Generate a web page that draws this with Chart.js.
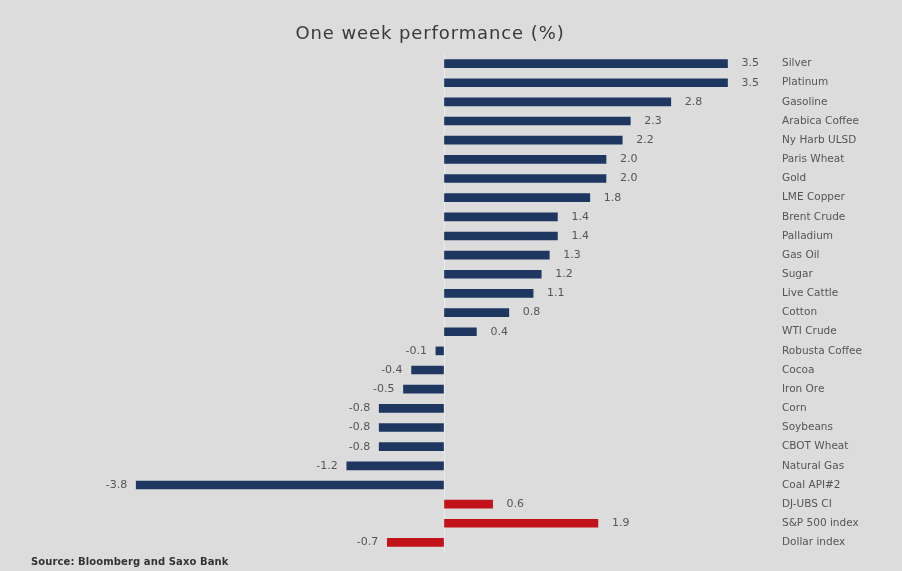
<!DOCTYPE html>
<html>
<head>
<meta charset="utf-8">
<script src="https://cdn.jsdelivr.net/npm/chart.js@4/dist/chart.umd.min.js"></script>
<style>
  html, body { margin: 0; padding: 0; background: #dcdcdc; }
  #wrap { position: relative; width: 902px; height: 571px; }
  #title { position: absolute; left: 0; top: 22px; width: 860px; text-align: center;
           font-family: 'DejaVu Sans', sans-serif; font-size: 18px; color: #3a3a3a; letter-spacing: 0.9px; }
  #source { position: absolute; left: 31px; top: 556px; font-family: 'DejaVu Sans', sans-serif;
            font-size: 10px; font-weight: bold; color: #333; letter-spacing: 0.1px; }
  canvas { position: absolute; left: 0; top: 0; }
</style>
</head>
<body>
<div id="wrap">
  <canvas id="perfChart" width="902" height="571"></canvas>
  <div id="title">One week performance (%)</div>
  <div id="source">Source: Bloomberg and Saxo Bank</div>
</div>
<script>
const labels = ['Silver', 'Platinum', 'Gasoline', 'Arabica Coffee', 'Ny Harb ULSD', 'Paris Wheat', 'Gold',
  'LME Copper', 'Brent Crude', 'Palladium', 'Gas Oil', 'Sugar', 'Live Cattle', 'Cotton', 'WTI Crude',
  'Robusta Coffee', 'Cocoa', 'Iron Ore', 'Corn', 'Soybeans', 'CBOT Wheat', 'Natural Gas', 'Coal API#2',
  'DJ-UBS CI', 'S&P 500 index', 'Dollar index'];
const values = [3.5, 3.5, 2.8, 2.3, 2.2, 2.0, 2.0, 1.8, 1.4, 1.4, 1.3, 1.2, 1.1, 0.8, 0.4,
  -0.1, -0.4, -0.5, -0.8, -0.8, -0.8, -1.2, -3.8, 0.6, 1.9, -0.7];
const benchmarks = ['DJ-UBS CI', 'S&P 500 index', 'Dollar index'];

const navy = '#1e3761';
const red = '#c2121a';

// 棒の先に値を書く
const valueLabels = {
  id: 'valueLabels',
  afterDatasetsDraw(chart) {
    const ctx = chart.ctx;
    const meta = chart.getDatasetMeta(0);
    ctx.save();
    ctx.font = "11px 'DejaVu Sans', sans-serif";
    ctx.fillStyle = '#555';
    ctx.textBaseline = 'middle';
    meta.data.forEach((bar, i) => {
      const v = values[i];
      if (v >= 0) {
        ctx.textAlign = 'left';
        ctx.fillText(v.toFixed(1), bar.x + 14, bar.y);
      } else {
        ctx.textAlign = 'right';
        ctx.fillText(v.toFixed(1), bar.x - 9, bar.y);
      }
    });
    ctx.restore();
  }
};

new Chart(document.getElementById('perfChart'), {
  type: 'bar',
  data: {
    labels: labels,
    datasets: [{
      data: values,
      backgroundColor: labels.map(l => benchmarks.includes(l) ? red : navy),
      barThickness: 8
    }]
  },
  options: {
    indexAxis: 'y',
    responsive: false,
    animation: false,
    layout: { padding: { top: 54, left: 120, right: 0, bottom: 19 } },
    scales: {
      x: {
        min: -4,
        max: 4,
        ticks: { display: false },
        border: { display: false },
        grid: {
          drawTicks: false,
          lineWidth: 1,
          color: c => c.tick && c.tick.value === 0 ? '#e8ecf0' : 'rgba(0,0,0,0)'
        },
        afterFit: s => { s.height = 0; }
      },
      y: {
        position: 'right',
        border: { display: false },
        grid: { display: false },
        ticks: {
          padding: 6,
          crossAlign: 'near',
          color: '#555',
          font: { family: "'DejaVu Sans', sans-serif", size: 10.5 }
        },
        afterFit: s => { s.width = 134; }
      }
    },
    plugins: {
      legend: { display: false },
      tooltip: { enabled: false }
    }
  },
  plugins: [valueLabels]
});
</script>
</body>
</html>
